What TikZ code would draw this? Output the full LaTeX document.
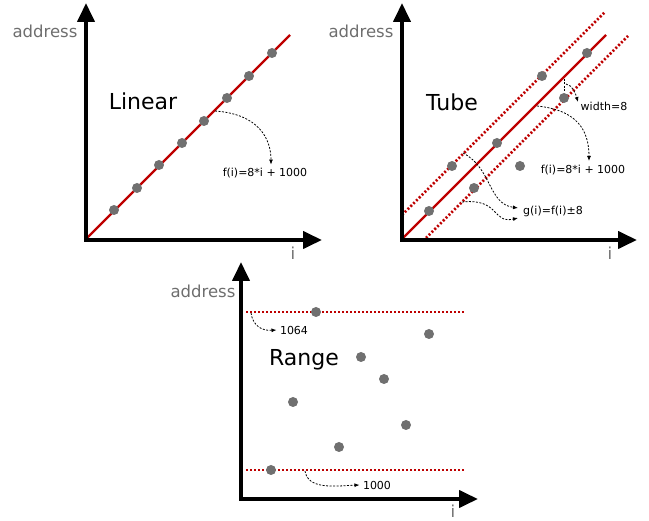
\documentclass[tikz,border=0pt]{standalone}
\usepackage{fontspec}
\setmainfont{DejaVu Sans}
\usetikzlibrary{arrows.meta}
\definecolor{dotgray}{RGB}{112,112,112}
\definecolor{linered}{RGB}{190,0,0}
\definecolor{labgray}{RGB}{110,110,110}
\tikzset{
  axis/.style={line width=4pt, line join=miter, {Triangle[length=19pt,width=17pt]}-{Triangle[length=19pt,width=17pt]}},
  pt/.style={circle, fill=dotgray, inner sep=0pt, minimum size=10pt},
  redline/.style={draw=linered, line width=2.2pt},
  reddots/.style={draw=linered, line width=2.6pt, dash pattern=on 2pt off 2pt},
  callout/.style={dash pattern=on 2pt off 1.5pt, line width=0.8pt, -{Latex[length=5pt,width=4pt]}},
  big/.style={font=\fontsize{22}{26}\selectfont},
  small/.style={font=\fontsize{11}{13}\selectfont},
  axlab/.style={text=labgray, font=\fontsize{16.5}{20}\selectfont},
}
\begin{document}
\begin{tikzpicture}[x=1pt,y=-1pt]
\useasboundingbox (0,0) rectangle (649,521);
% ---------------- Panel 1: Linear
\coordinate (l0) at (86,239);
\coordinate (l1) at (290,35);
\draw[redline] (l0) -- (l1);
\foreach \k/\x/\y in {1/114/210,2/137/188,3/159/165,4/182/143,5/204/121,6/227/98,7/249/76,8/272/53}
  \node[pt] (ld\k) at (\x,\y) {};
\draw[axis] (86,3) -- (86,240) -- (322,240);
\node[axlab] (laddr) at (45,31) {address};
\node[axlab] (li) at (293,253) {i};
\node[big] (linear) at (143,101) {Linear};
\node[small] (lf) at (265,173) {f(i)=8*i + 1000};
\coordinate (lfs) at (215,111);
\draw[callout] (lfs) .. controls (258,114) and (271,138) .. (lf.north -| 271,0);
% ---------------- Panel 2: Tube
\draw[redline] (402,239) -- (606,35);
\draw[reddots] (402,215) -- (605,12);
\draw[reddots] (426,238) -- (628,36);
\foreach \k/\x/\y in {1/429/211,2/452/166,3/474/188,4/497/143,5/520/166,6/542/76,7/564/98,8/587/53}
  \node[pt] (td\k) at (\x,\y) {};
\draw[axis] (402,3) -- (402,240) -- (637,240);
\node[axlab] (taddr) at (361,31) {address};
\node[axlab] (ti) at (610,253) {i};
\node[big] (tube) at (452,102) {Tube};
\node[small] (tw) at (604,106) {width=8};
\node[small] (tf) at (583,170) {f(i)=8*i + 1000};
\node[small] (tg) at (553,211) {g(i)=f(i)±8};
\coordinate (twa) at (564,79);
\coordinate (twb) at (564,91);
\draw[dash pattern=on 2pt off 1.5pt, line width=1pt] (twa) -- (twb);
\coordinate (tws) at (566,84);
\draw[callout] (tws) .. controls (573,85) and (576,95) .. (578,102);
\coordinate (tfs) at (537,106);
\draw[callout] (tfs) .. controls (577,110) and (589,130) .. (589,161);
\coordinate (tgs1) at (463,153);
\draw[callout] (tgs1) .. controls (492,168) and (488,204) .. (518,208);
\coordinate (tgs2) at (462,202);
\draw[callout] (tgs2) .. controls (500,198) and (492,224) .. (518,218);
% ---------------- Panel 3: Range
\draw[reddots] (246,312) -- (465,312);
\draw[reddots] (246,470) -- (465,470);
\foreach \k/\x/\y in {1/316/312,2/429/334,3/361/357,4/384/379,5/293/402,6/406/425,7/339/447,8/271/470}
  \node[pt] (rd\k) at (\x,\y) {};
\draw[axis] (241,262) -- (241,499) -- (478,499);
\node[axlab] (raddr) at (203,291) {address};
\node[axlab] (ri) at (453,511) {i};
\node[big] (range) at (304,360) {Range};
\node[small] (r64) at (294,330) {1064};
\node[small] (r00) at (377,485) {1000};
\coordinate (r64s) at (251,313);
\draw[callout] (r64s) .. controls (253,326) and (262,331) .. (r64.west);
\coordinate (r00s) at (305,471);
\draw[callout] (r00s) .. controls (308,490) and (335,486) .. (r00.west);
\end{tikzpicture}
\end{document}
